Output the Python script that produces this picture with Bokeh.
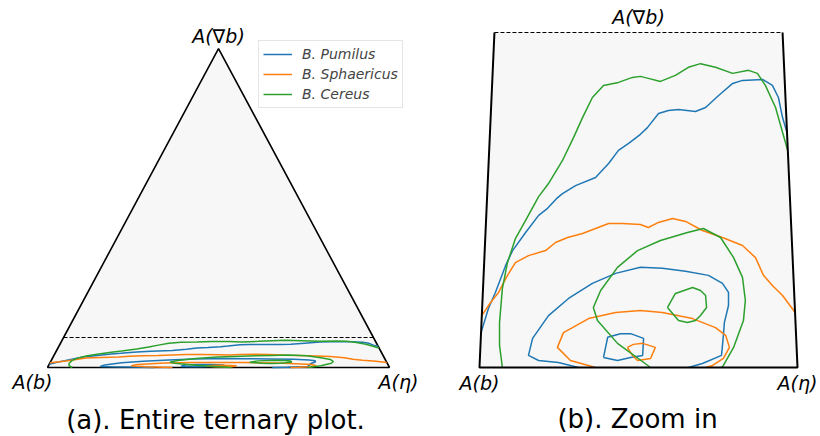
from bokeh.plotting import figure
from bokeh.layouts import row
from bokeh.models import Legend, LegendItem, Range1d
from bokeh.core.properties import value
from bokeh.embed import file_html
from bokeh.resources import INLINE

# height of the zoom window (dashed line) as a fraction of the triangle height
ZOOM = 0.094

species = ["B. Pumilus", "B. Sphaericus", "B. Cereus"]
colors = ["#1f77b4", "#ff7f0e", "#2ca02c"]

# Contours: x = % along the base A(b) -> A(eta); y = % of the zoom-window height
pum_outer_x = [0.5, 2.8, 5.0, 8.2, 10.4, 14.5, 18.6, 21.4, 24.2, 26.1, 30.2, 36.5, 40.6, 43.7, 46.9,
               50.6, 52.8, 56.3, 59.4, 62.6, 67.9, 71.1, 75.2, 79.6, 82.7, 89.0, 92.1, 94.0, 95.3, 96.7]
pum_outer_y = [10.4, 17.6, 22.4, 30.4, 34.9, 40.3, 45.4, 47.5, 50.4, 51.9, 54.3, 56.7, 60.9, 64.8, 66.9,
               69.6, 71.6, 75.8, 76.7, 77.0, 76.4, 77.6, 81.2, 84.8, 85.7, 86.0, 84.2, 80.6, 74.6, 70.1]
pum_mid_x = [31.1, 24.8, 18.6, 15.4, 16.7, 21.7, 28.0, 35.5, 42.8, 50.6, 57.5, 64.8, 72.0, 76.4, 78.3,
             78.3, 77.0, 76.7, 76.1, 70.1, 65.7]
pum_mid_y = [0, 1.5, 2.1, 3.6, 8.7, 15.5, 20.6, 25.1, 28.1, 29.9, 29.6, 28.7, 27.5, 25.1, 22.4,
             18.5, 13.4, 9.6, 3.6, 1.2, 0]
pum_inner_x = [39.0, 40.3, 44.3, 47.5, 51.6, 51.3, 47.5, 43.4, 39.0]
pum_inner_y = [3.0, 9.0, 10.1, 10.1, 8.7, 3.6, 3.0, 2.1, 3.0]

sph_outer_x = [0.7, 3.5, 6.0, 8.8, 11.3, 15.4, 20.8, 23.9, 27.7, 32.4, 36.5, 40.6, 45.0, 50.6, 53.1,
               56.3, 60.7, 64.8, 70.1, 76.4, 82.7, 86.8, 89.3, 92.1, 95.3, 99.2]
sph_outer_y = [15.5, 19.4, 22.4, 27.5, 31.3, 33.4, 34.9, 37.3, 38.8, 40.0, 41.5, 43.0, 43.0, 42.7, 41.8,
               43.3, 44.5, 43.6, 40.9, 38.8, 36.4, 32.8, 27.5, 24.5, 21.5, 16.5]
sph_mid_x = [36.5, 28.6, 24.5, 26.4, 34.3, 42.8, 50.6, 57.5, 67.0, 74.2, 77.4, 78.6, 76.7, 73.3, 71.1]
sph_mid_y = [0, 2.1, 6.0, 10.4, 14.6, 16.4, 17.0, 16.4, 14.6, 11.9, 9.6, 6.0, 2.7, 0.6, 0]
sph_inner_x = [46.5, 48.4, 51.3, 55.3, 53.8, 49.7, 48.1, 46.5]
sph_inner_y = [6.0, 6.9, 7.2, 6.0, 2.7, 2.1, 3.6, 6.0]

cer_outer_x = [7.2, 6.3, 6.3, 7.2, 8.8, 11.3, 14.5, 18.6, 21.7, 26.1, 29.6, 32.4, 35.5, 39.0, 43.7,
               48.1, 50.6, 53.1, 56.9, 61.6, 65.7, 69.5, 74.2, 79.6, 84.6, 87.4, 89.9, 93.1, 96.9]
cer_outer_y = [0, 6.6, 13.4, 23.6, 31.3, 38.5, 43.9, 51.0, 54.9, 61.8, 68.7, 74.6, 80.6, 84.2, 85.1,
               86.6, 86.9, 86.3, 85.4, 87.2, 89.6, 90.7, 89.6, 87.8, 88.7, 87.8, 84.2, 77.6, 64.8]
cer_mid_x = [53.8, 43.4, 37.1, 35.8, 38.1, 43.4, 49.7, 56.9, 65.4, 70.4, 75.8, 79.9, 82.7, 83.6, 83.0,
             79.9, 76.7, 76.1]
cer_mid_y = [0, 7.2, 14.0, 17.9, 23.0, 29.9, 34.9, 37.9, 40.3, 41.5, 38.8, 32.8, 26.9, 20.0, 14.0,
             6.0, 0.6, 0]
cer_inner_x = [59.1, 61.6, 67.0, 69.5, 71.1, 71.4, 69.5, 67.9, 65.4, 62.6, 59.1]
cer_inner_y = [17.9, 22.1, 23.9, 23.0, 21.5, 17.9, 15.5, 14.0, 13.4, 14.0, 17.9]

contours = [
    [(pum_outer_x, pum_outer_y), (pum_mid_x, pum_mid_y), (pum_inner_x, pum_inner_y)],
    [(sph_outer_x, sph_outer_y), (sph_mid_x, sph_mid_y), (sph_inner_x, sph_inner_y)],
    [(cer_outer_x, cer_outer_y), (cer_mid_x, cer_mid_y), (cer_inner_x, cer_inner_y)],
]

FONT_NAME = "DejaVu Sans"
FONT = value(FONT_NAME)
FILL = "#f7f7f7"


def make_fig(width, xr, yr):
    p = figure(width=width, height=436, x_range=Range1d(*xr), y_range=Range1d(*yr),
               x_axis_type=None, y_axis_type=None, output_backend="svg",
               toolbar_location=None, min_border=0)
    p.grid.visible = False
    p.outline_line_color = None
    p.background_fill_color = "white"
    p.border_fill_color = "white"
    return p


def label(p, x, y, txt, xo, yo, size="19px", style="italic"):
    p.text(x=[x], y=[y], text=[txt], x_offset=xo, y_offset=yo, text_font=FONT,
           text_font_size=size, text_font_style=style, text_align="center",
           text_baseline="middle", text_color="black")


zt = ZOOM / 2  # left-edge x shift at the top of the zoom window

# ---------------- (a) entire ternary plot ----------------
p1 = make_fig(420, (-0.1374, 1.0906), (-0.2163, 1.1505))
p1.patch([0, 1, 0.5], [0, 0, 1], fill_color=FILL, line_color="black", line_width=1.6)
p1.line([zt, 1 - zt], [ZOOM, ZOOM], line_color="black", line_width=1.1, line_dash="4 2")
items = []
for name, col, cs in zip(species, colors, contours):
    r = p1.multi_line(xs=[[v / 100 for v in cx] for cx, cy in cs],
                      ys=[[v / 100 * ZOOM for v in cy] for cx, cy in cs],
                      line_color=col, line_width=1.5)
    items.append(LegendItem(label=name, renderers=[r]))
leg = Legend(items=items, location=(258, 328), label_text_font=FONT_NAME, label_text_font_size="14px",
             label_text_font_style="italic", glyph_width=29, glyph_height=18, label_height=18,
             label_standoff=10, spacing=2, padding=4, margin=0, border_line_color="#cccccc",
             border_line_width=1, background_fill_alpha=0.8)
p1.add_layout(leg, "center")
label(p1, 0.5, 1.0, "A(∇b)", 0, -13)
label(p1, 0.0, 0.0, "A(b)", -15, 14)
label(p1, 1.0, 0.0, "A(η)", 9, 14)
label(p1, 0.5, 0.0, "(a). Entire ternary plot.", -3, 52, size="26px", style="normal")

# ---------------- (b) zoom in ----------------
p2 = make_fig(400, (-0.1855, 1.0723), (-0.206, 1.0955))
p2.patch([0, 1, 1 - zt, zt], [0, 0, 1, 1], fill_color=FILL, line_color=None)
for name, col, cs in zip(species, colors, contours):
    p2.multi_line(xs=[[v / 100 for v in cx] for cx, cy in cs],
                  ys=[[v / 100 for v in cy] for cx, cy in cs],
                  line_color=col, line_width=1.5)
p2.multi_line(xs=[[zt, 0, 1, 1 - zt]], ys=[[1, 0, 0, 1]], line_color="black", line_width=2)
p2.line([zt, 1 - zt], [1, 1], line_color="black", line_width=1.1, line_dash="4 2")
label(p2, 0.5, 1.0, "A(∇b)", 0, -15)
label(p2, 0.0, 0.0, "A(b)", 0, 16)
label(p2, 1.0, 0.0, "A(η)", 0, 16)
label(p2, 0.5, 0.0, "(b). Zoom in", -1, 52, size="26px", style="normal")

layout = row(p1, p2)
open("out.html", "w").write(file_html(layout, INLINE))
